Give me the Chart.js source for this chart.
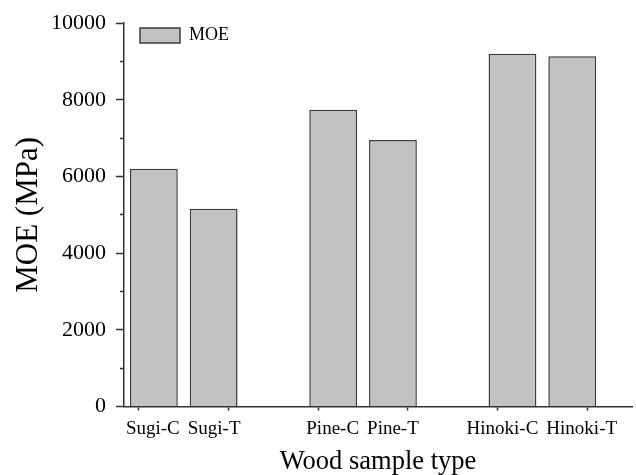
<!DOCTYPE html>
<html><head><meta charset="utf-8">
<script src="https://cdn.jsdelivr.net/npm/chart.js@4/dist/chart.umd.min.js"></script>
<style>html,body{margin:0;padding:0;background:#fff}</style>
</head><body>
<canvas id="c" width="636" height="475"></canvas>
<script>
const categories = ['Sugi-C', 'Sugi-T', 'Pine-C', 'Pine-T', 'Hinoki-C', 'Hinoki-T'];
const moeValues = [6200, 5160, 7740, 6950, 9200, 9140];
const yTickLabels = [0, 2000, 4000, 6000, 8000, 10000];
const groupTicks = [1, 1.5, 2, 2.5, 3, 3.5];
const seriesName = 'MOE';
const xTitle = 'Wood sample type';
const yTitle = 'MOE (MPa)';

// each species is one group (1, 2, 3); C and T bars sit either side of the group centre
const groupOf = i => Math.floor(i / 2) + 1;
const xPos = categories.map((c, i) => groupOf(i) + (i % 2 === 0 ? -1 / 6 : 1 / 6));

const FONT = 'Liberation Serif';
const XLABEL_SIZE = 19;
const AXIS = '#333333';

new Chart(document.getElementById('c'), {
  type: 'bar',
  data: {
    datasets: [{
      label: seriesName,
      data: xPos.map((x, i) => ({ x: x, y: moeValues[i] })),
      backgroundColor: '#c2c2c2',
      borderColor: '#3c3c3c',
      borderWidth: 1.5,
      barPercentage: 0.8,
      categoryPercentage: 1
    }]
  },
  options: {
    responsive: false,
    animation: false,
    devicePixelRatio: 1,
    layout: { padding: { top: 21, right: 4, left: 0, bottom: 0 } },
    plugins: {
      tooltip: { enabled: false },
      legend: {
        position: 'chartArea',
        align: 'start',
        title: { display: true, text: ' ', font: { size: 10.5, lineHeight: 1 }, padding: 0 },
        labels: {
          boxWidth: 40,
          boxHeight: 15,
          padding: 16,
          color: '#000',
          font: { family: FONT, size: 18 }
        }
      }
    },
    scales: {
      x: {
        type: 'linear',
        min: 2 / 3,
        max: 3.5,
        offset: false,
        afterBuildTicks: axis => { axis.ticks = groupTicks.map(v => ({ value: v })); },
        ticks: { display: false },
        grid: { drawOnChartArea: false, tickLength: 4, tickColor: AXIS, tickWidth: 1.5 },
        border: { color: AXIS, width: 1.5 },
        afterFit: s => { s.height = 5; }
      },
      x2: {
        type: 'linear',
        position: 'bottom',
        min: 2 / 3,
        max: 3.5,
        offset: false,
        afterBuildTicks: axis => {
          // C labels end just left of the group centre, T labels start just right of it
          const c = axis.ctx;
          c.save();
          c.font = XLABEL_SIZE + 'px "' + FONT + '"';
          const upp = (axis.max - axis.min) / (axis.width || 508);
          const gap = 4;
          axis.ticks = categories.map((name, i) => {
            const half = c.measureText(name).width / 2;
            const dir = i % 2 === 0 ? -1 : 1;
            return { value: groupOf(i) + dir * (gap + half) * upp };
          });
          c.restore();
        },
        grid: { display: false, drawTicks: false },
        border: { display: false },
        ticks: {
          autoSkip: false,
          maxRotation: 0,
          padding: 6,
          color: '#000',
          font: { family: FONT, size: XLABEL_SIZE },
          callback: (v, i) => categories[i]
        },
        title: {
          display: true,
          text: xTitle,
          color: '#000',
          font: { family: FONT, size: 26.5, lineHeight: 1 },
          padding: { top: 0, bottom: 0 }
        },
        afterFit: s => { s.height = 63.5; }
      },
      y: {
        min: 0,
        max: 10000,
        ticks: {
          stepSize: 1000,
          padding: 10,
          color: '#000',
          font: { family: FONT, size: 22 },
          callback: v => yTickLabels.includes(v) ? String(v) : ''
        },
        grid: {
          drawOnChartArea: false,
          tickLength: 8,
          tickColor: AXIS,
          tickWidth: 1.5,
          tickBorderDash: ctx => (ctx.tick && !yTickLabels.includes(ctx.tick.value)) ? [0, 4, 100] : []
        },
        border: { color: AXIS, width: 1.5 },
        title: {
          display: true,
          text: yTitle,
          color: '#000',
          font: { family: FONT, size: 31, lineHeight: 1.2 },
          padding: { top: 10, bottom: 0 }
        },
        afterFit: s => { s.width = 124; }
      }
    }
  }
});
</script>
</body></html>
